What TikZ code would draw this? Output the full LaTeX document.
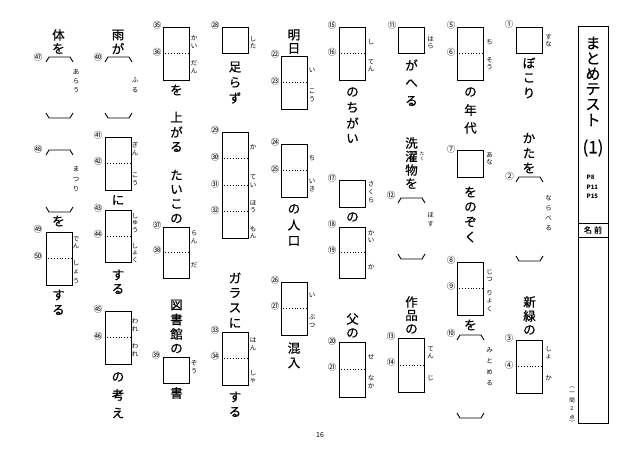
\documentclass[tikz,border=0pt]{standalone}
\usepackage{fontspec}
\newfontfamily\jp{Noto Sans CJK JP}
\newfontfamily\jpm{Noto Sans CJK JP}[FakeBold=0.5]
\usetikzlibrary{calc}
\tikzset{
  jpt/.style={font=\jpm\fontsize{12.5}{12.5}\selectfont, inner sep=0pt},
  rb/.style={font=\jp\fontsize{6.5}{6.5}\selectfont, inner sep=0pt},
  rbs/.style={font=\jp\fontsize{4.5}{4.5}\selectfont, inner sep=0pt},
  num/.style={font=\jp\fontsize{8.5}{8.5}\selectfont, inner sep=0pt},
  abox/.style={draw, line width=0.9pt, minimum width=26.5pt, inner sep=0pt},
  dv/.style={dotted, line width=0.8pt},
  brk/.style={line width=0.9pt},
  ttl/.style={font=\jpm\fontsize{15}{15}\selectfont, inner sep=0pt},
  smallt/.style={font=\jp\fontsize{5.5}{5.5}\selectfont, inner sep=0pt},
}
% vertical text: [style]{name}{x}{y0}{pitch}{chars}
\newcommand\vt[6][jpt]{\foreach \c [count=\i] in {#6} {\node[#1] (#2-\i) at (#3,{#4+(\i-1)*#5}) {\c};}}
% answer box: {name}{xleft}{ytop}{ybottom}{cells}
\newcommand\ab[5]{%
  \node[abox, minimum height={#4-#3}] (#1) at ({#2+13.25},{(#3+#4)/2}) {};
  \ifnum#5>1
    \foreach \k in {2,...,#5} {\draw[dv] ($(#1.north west)!{(\k-1)/#5}!(#1.south west)$) -- ($(#1.north east)!{(\k-1)/#5}!(#1.south east)$);}
  \fi}
% bracket pair: {name}{xleft}{ytop}{ybottom}
\newcommand\bk[4]{%
  \coordinate (#1-tl) at (#2,#3+5); \coordinate (#1-tr) at (#2+27,#3+5);
  \coordinate (#1-bl) at (#2,#4-5); \coordinate (#1-br) at (#2+27,#4-5);
  \draw[brk] (#1-tl) -- ++(3,-5) -- ++(21,0) -- (#1-tr);
  \draw[brk] (#1-bl) -- ++(3,5) -- ++(21,0) -- (#1-br);}
\newcommand\cn[3]{\node[num] (n#1) at (#2,#3) {\char"#1};}
\begin{document}
\begin{tikzpicture}[x=1pt,y=-1pt]
\fill[white] (0,0) rectangle (640,449);
\useasboundingbox (0,0) rectangle (640,449);

% ===== title column =====
\node[draw, line width=0.9pt, minimum width=30pt, minimum height=397pt, inner sep=0pt] (title) at (593,224.5) {};
\draw[line width=0.9pt] (title.west |- 0,223) -- (title.east |- 0,223);
\draw[line width=0.9pt] (title.west |- 0,237) -- (title.east |- 0,237);
\vt[ttl]{tt}{593}{43}{15.4}{ま,と,め,テ,ス,ト}
\node[font=\jpm\fontsize{17}{17}\selectfont, inner sep=0pt] (tnum) at (593,148) {(1)};
\node[font=\jp\bfseries\fontsize{6}{9.5}\selectfont, inner sep=0pt, align=left, anchor=west] (pages) at (586.5,187) {P8\\P11\\P15};
\node[font=\jpm\fontsize{8}{8}\selectfont, inner sep=0pt] (name) at (593,230) {名\hspace{2pt}前};
\node[smallt, rotate=-90] (pa) at (572,387) {(};
\vt[smallt]{pt}{572}{393}{8}{一,問,2,点}
\node[smallt, rotate=-90] (pb) at (572,421) {)};
\node[font=\jp\fontsize{7}{7}\selectfont, inner sep=0pt] (page) at (320,435) {16};

% ===== column 1 =====
\ab{b1}{516}{27}{53}{1}
\cn{2460}{509}{24}
\vt[rb]{r1}{548.5}{37}{7.5}{す,な}
\vt{t1a}{529}{63}{15}{ぼ,こ,り}
\vt{t1b}{529}{138}{15}{か,た,を}
\bk{k2}{516}{177}{261}
\cn{2461}{509.5}{176}
\vt[rb]{r2}{548.5}{198}{10}{な,ら,べ,る}
\vt{t1c}{529.5}{302}{14}{新,緑,の}
\ab{b3}{516}{340}{393}{2}
\cn{2462}{509}{338}
\cn{2463}{509}{365}
\vt[rb]{r3}{548.5}{349}{7.5}{し,ょ}
\vt[rb]{r4}{548.5}{378}{7.5}{か}

% ===== column 2 =====
\ab{b5}{457}{27}{80}{2}
\cn{2464}{451}{25}
\cn{2465}{451}{52}
\vt[rb]{r5}{489.5}{42}{7.5}{ち}
\vt[rb]{r6}{489.5}{60}{7.5}{そ,う}
\vt{t2a}{470.5}{92}{18}{の,年,代}
\ab{b7}{457}{150}{177}{1}
\cn{2466}{451}{149}
\vt[rb]{r7}{489.5}{155}{7.5}{あ,な}
\vt{t2b}{470.5}{192}{15}{を,の,ぞ,く}
\ab{b8}{457}{262}{315}{2}
\cn{2467}{451}{260}
\cn{2468}{451}{286}
\vt[rb]{r8}{489.5}{272}{7.5}{じ,つ}
\vt[rb]{r9}{489.5}{293}{8}{り,ょ,く}
\vt{t2c}{470.5}{325}{15}{を}
\bk{k10}{457}{335}{418}
\cn{2469}{451}{333}
\vt[rb]{r10}{489.5}{350}{11}{み,と,め,る}

% ===== column 3 =====
\ab{b11}{398}{27}{53}{1}
\cn{246A}{392}{25}
\vt[rb]{r11}{430.5}{39}{7.5}{は,ら}
\vt{t3a}{411.5}{65}{18}{が,へ,る}
\vt{t3b}{411.5}{143}{13.5}{洗,濯,物,を}
\vt[rbs]{r3t}{422}{154}{5}{た,く}
\bk{k12}{398}{198}{259}
\cn{246B}{391}{195}
\vt[rb]{r12}{430.5}{215}{9}{ほ,す}
\vt{t3c}{411.5}{302}{13.5}{作,品,の}
\ab{b13}{398}{338}{392}{2}
\cn{246C}{391}{336}
\cn{246D}{391}{362}
\vt[rb]{r13}{430.5}{349}{7.5}{て,ん}
\vt[rb]{r14}{430.5}{378}{7.5}{じ}

% ===== column 4 =====
\ab{b15}{339}{27}{80}{2}
\cn{246E}{332}{25}
\cn{246F}{332}{52}
\vt[rb]{r15}{371}{42}{7.5}{し}
\vt[rb]{r16}{371}{62}{7.5}{て,ん}
\vt{t4a}{352.5}{92}{15.5}{の,ち,が,い}
\ab{b17}{339}{180}{207}{1}
\cn{2470}{332}{178}
\vt[rb]{r17}{371}{184}{8}{さ,く,ら}
\vt{t4b}{352.5}{217}{15}{の}
\ab{b18}{339}{227}{278}{2}
\cn{2471}{332}{224}
\cn{2472}{332}{250}
\vt[rb]{r18}{371}{233}{7.5}{か,い}
\vt[rb]{r19}{371}{267}{7.5}{か}
\vt{t4c}{352.5}{319}{14}{父,の}
\ab{b20}{339}{342}{397}{2}
\cn{2473}{332}{341}
\cn{3251}{332}{367}
\vt[rb]{r20}{371}{357}{7.5}{せ}
\vt[rb]{r21}{371}{378}{8}{な,か}

% ===== column 5 =====
\vt{t5a}{294}{35}{13.5}{明,日}
\ab{b22}{281}{56}{109}{2}
\cn{3252}{275}{54}
\cn{3253}{275}{81}
\vt[rb]{r22}{312}{70}{7.5}{い}
\vt[rb]{r23}{312}{91}{8}{こ,う}
\ab{b24}{281}{144}{197}{2}
\cn{3254}{275}{142}
\cn{3255}{275}{169}
\vt[rb]{r24}{312}{158}{7.5}{ち}
\vt[rb]{r25}{312}{181}{8}{い,き}
\vt{t5b}{294}{209}{16}{の,人,口}
\ab{b26}{281}{282}{335}{2}
\cn{3256}{275}{280}
\cn{3257}{275}{306}
\vt[rb]{r26}{312}{295}{7.5}{い}
\vt[rb]{r27}{312}{317}{8}{ぶ,つ}
\vt{t5c}{294}{348}{15}{混,入}

% ===== column 6 =====
\ab{b28}{222}{27}{53}{1}
\cn{3258}{215}{25}
\vt[rb]{r28}{253}{39}{7.5}{し,た}
\vt{t6a}{235}{67}{15.5}{足,ら,ず}
\ab{b29}{222}{132}{238}{4}
\cn{3259}{215}{130}
\cn{325A}{215}{157}
\cn{325B}{215}{184}
\cn{325C}{215}{210}
\vt[rb]{r29}{253}{147}{7.5}{か}
\vt[rb]{r30}{253}{177}{8}{て,い}
\vt[rb]{r31}{253}{203}{7.5}{ほ,う}
\vt[rb]{r32}{253}{229}{7.5}{も,ん}
\vt{t6b}{235}{278}{15}{ガ,ラ,ス,に}
\ab{b33}{222}{332}{385}{2}
\cn{325D}{215}{330}
\cn{325E}{215}{356}
\vt[rb]{r33}{253}{340}{8}{は,ん}
\vt[rb]{r34}{253}{373}{8}{し,ゃ}
\vt{t6c}{235}{397}{15}{す,る}

% ===== column 7 =====
\ab{b35}{163}{27}{80}{2}
\cn{325F}{157}{25}
\cn{32B1}{157}{52}
\vt[rb]{r35}{194}{38}{8}{か,い}
\vt[rb]{r36}{194}{63}{8}{だ,ん}
\vt{t7a}{176.5}{90}{15}{を}
\vt{t7b}{176.5}{117}{15}{上,が,る}
\vt{t7c}{176.5}{175}{14.5}{た,い,こ,の}
\ab{b37}{163}{227}{278}{2}
\cn{32B2}{157}{225}
\cn{32B3}{157}{250}
\vt[rb]{r37}{194}{233}{8}{ら,ん}
\vt[rb]{r38}{194}{265}{7.5}{だ}
\vt{t7d}{176.5}{305}{14.5}{図,書,館,の}
\ab{b39}{163}{357}{383}{1}
\cn{32B4}{156}{355}
\vt[rb]{r39}{194}{363}{8}{ぞ,う}
\vt{t7e}{176.5}{393}{15}{書}

% ===== column 8 =====
\vt{t8a}{118}{35}{13.5}{雨,が}
\bk{k40}{105}{57}{118}
\cn{32B5}{98}{57}
\vt[rb]{r40}{135}{80}{10}{ふ,る}
\ab{b41}{105}{137}{190}{2}
\cn{32B6}{98}{135}
\cn{32B7}{98}{161}
\vt[rb]{r41}{135}{145}{8}{ぎ,ん}
\vt[rb]{r42}{135}{175}{8}{こ,う}
\vt{t8b}{118}{200}{15}{に}
\ab{b43}{105}{210}{262}{2}
\cn{32B8}{98}{208}
\cn{32B9}{98}{234}
\vt[rb]{r43}{135}{216}{7}{し,ゅ,う}
\vt[rb]{r44}{135}{246}{7}{し,ょ,く}
\vt{t8c}{118}{275}{14}{す,る}
\ab{b45}{105}{311}{364}{2}
\cn{32BA}{98}{309}
\cn{32BB}{98}{336}
\vt[rb]{r45}{135}{321}{8}{わ,れ}
\vt[rb]{r46}{135}{346}{8}{わ,れ}
\vt{t8d}{118}{377}{18}{の,考,え}

% ===== column 9 =====
\vt{t9a}{58.5}{35}{13.5}{体,を}
\bk{k47}{46}{57}{118}
\cn{32BC}{38}{57}
\vt[rb]{r47}{76}{72}{9}{あ,ら,う}
\bk{k48}{46}{150}{212}
\cn{32BD}{38}{149}
\vt[rb]{r48}{76}{169}{10}{ま,つ,り}
\vt{t9b}{58.5}{221}{15}{を}
\ab{b49}{46}{232}{285}{2}
\cn{32BE}{38}{229}
\cn{32BF}{38}{256}
\vt[rb]{r49}{76}{239}{7.5}{で,ん}
\vt[rb]{r50}{76}{263}{9}{し,ょ,う}
\vt{t9c}{58.5}{295}{15}{す,る}
\end{tikzpicture}
\end{document}
